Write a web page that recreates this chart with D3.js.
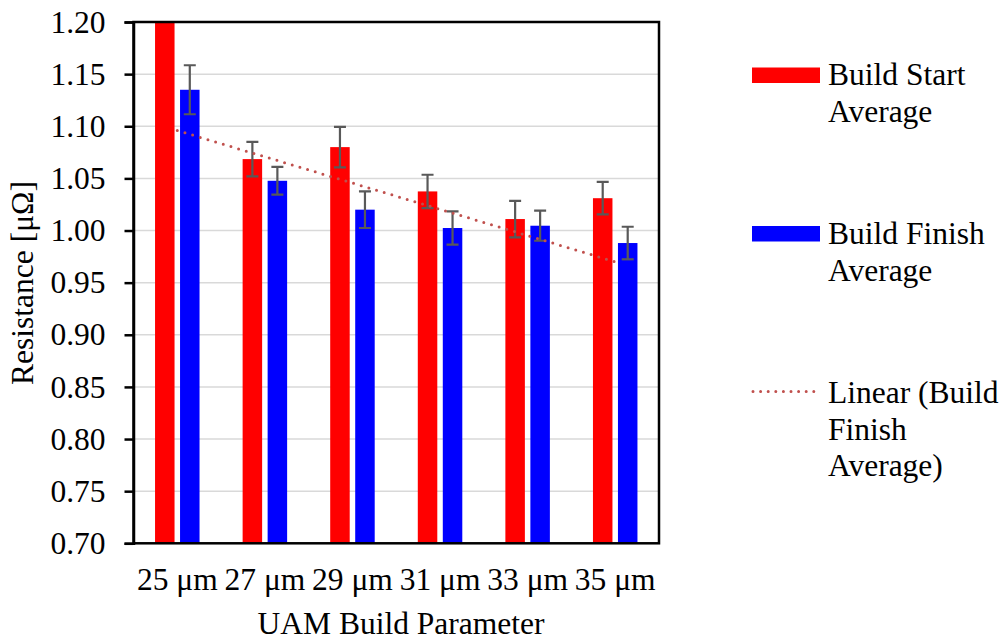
<!DOCTYPE html>
<html>
<head>
<meta charset="utf-8">
<script src="https://cdn.jsdelivr.net/npm/d3@7"></script>
<style>
  body { margin: 0; background: #fff; }
  svg { display: block; }
</style>
</head>
<body>
<svg id="chart" width="1008" height="641"></svg>
<script>
// ---- Data ----
const categories = ["25 μm", "27 μm", "29 μm", "31 μm", "33 μm", "35 μm"];
const startAvg   = [1.24, 1.0685, 1.080, 1.0375, 1.011, 1.031];
const startErr   = [0.02, 0.0165, 0.0195, 0.016, 0.0175, 0.0156];
const finishAvg  = [1.135, 1.0477, 1.020, 1.0024, 1.0046, 0.988];
const finishErr  = [0.0235, 0.0133, 0.0176, 0.016, 0.0144, 0.0156];
const yTicks     = [0.70, 0.75, 0.80, 0.85, 0.90, 0.95, 1.00, 1.05, 1.10, 1.15, 1.20];
const legendLabels = [["Build Start", "Average"], ["Build Finish", "Average"], ["Linear (Build", "Finish", "Average)"]];

const FONT = "'Liberation Serif'";
const FS = "31.5px";

// ---- Layout ----
const svg = d3.select("#chart");
const plot = { left: 133.5, right: 659, top: 22, bottom: 543.3 };
const colors = { start: "#FF0000", finish: "#0000FF", err: "#595959", trend: "#C0504D", grid: "#D9D9D9" };

const x = d3.scaleBand().domain(categories).range([plot.left, plot.right]).padding(0);
const y = d3.scaleLinear().domain([0.70, 1.20]).range([plot.bottom, plot.top]);
const barW = 19.5, offset = 12.5;

svg.append("defs").append("clipPath").attr("id", "clip")
  .append("rect").attr("x", plot.left).attr("y", plot.top)
  .attr("width", plot.right - plot.left).attr("height", plot.bottom - plot.top);

svg.append("g").selectAll("line").data(yTicks.slice(1, -1)).join("line")
  .attr("x1", plot.left).attr("x2", plot.right)
  .attr("y1", d => y(d)).attr("y2", d => y(d))
  .attr("stroke", colors.grid).attr("stroke-width", 1.5);

const g = svg.append("g").attr("clip-path", "url(#clip)");

const series = [
  { vals: startAvg, errs: startErr, color: colors.start, dx: -offset },
  { vals: finishAvg, errs: finishErr, color: colors.finish, dx: offset }
];

series.forEach(s => {
  g.append("g").selectAll("rect").data(categories).join("rect")
    .attr("x", (c) => x(c) + x.bandwidth() / 2 + s.dx - barW / 2)
    .attr("width", barW)
    .attr("y", (c, i) => y(s.vals[i]))
    .attr("height", (c, i) => plot.bottom - y(s.vals[i]))
    .attr("fill", s.color);
});

series.forEach(s => {
  const eg = g.append("g").attr("stroke", colors.err).attr("stroke-width", 2.2);
  categories.forEach((c, i) => {
    const cx = x(c) + x.bandwidth() / 2 + s.dx;
    const hi = y(s.vals[i] + s.errs[i]), lo = y(s.vals[i] - s.errs[i]);
    eg.append("line").attr("x1", cx).attr("x2", cx).attr("y1", hi).attr("y2", lo);
    eg.append("line").attr("x1", cx - 6).attr("x2", cx + 6).attr("y1", hi).attr("y2", hi);
    eg.append("line").attr("x1", cx - 6).attr("x2", cx + 6).attr("y1", lo).attr("y2", lo);
  });
});

// linear trendline (least squares on Build Finish Average)
const xs = finishAvg.map((_, i) => i + 1);
const mx = d3.mean(xs), my = d3.mean(finishAvg);
const slope = d3.sum(xs, (xv, i) => (xv - mx) * (finishAvg[i] - my)) / d3.sum(xs, xv => (xv - mx) ** 2);
const intercept = my - slope * mx;
const trendPts = [1, categories.length].map(k => [x(categories[k - 1]) + x.bandwidth() / 2, y(intercept + slope * k)]);
g.append("path").attr("d", d3.line()(trendPts))
  .attr("fill", "none").attr("stroke", colors.trend).attr("stroke-width", 3)
  .attr("stroke-linecap", "round").attr("stroke-dasharray", "0 8");

svg.append("rect").attr("x", plot.left).attr("y", plot.top)
  .attr("width", plot.right - plot.left).attr("height", plot.bottom - plot.top)
  .attr("fill", "none").attr("stroke", "#000").attr("stroke-width", 2.5);

const yAxis = d3.axisLeft(y).tickValues(yTicks).tickFormat(d3.format(".2f")).tickSize(9).tickPadding(19);
const ya = svg.append("g").attr("transform", `translate(${plot.left},0)`).call(yAxis);
ya.select(".domain").attr("stroke", "#000").attr("stroke-width", 2.5);
ya.selectAll(".tick line").attr("stroke", "#000").attr("stroke-width", 2.5);
ya.selectAll(".tick text").attr("fill", "#000").style("font-family", FONT).style("font-size", FS);

const xAxis = d3.axisBottom(x).tickSize(0).tickPadding(0);
const xa = svg.append("g").attr("transform", `translate(0,${plot.bottom})`).call(xAxis);
xa.select(".domain").remove();
xa.selectAll(".tick text").attr("fill", "#000").attr("dy", null).attr("y", 47)
  .style("font-family", FONT).style("font-size", FS);

svg.append("text").attr("x", 401).attr("y", 634).attr("text-anchor", "middle")
  .style("font-family", FONT).style("font-size", FS).attr("fill", "#000").text("UAM Build Parameter");
svg.append("text").attr("transform", "translate(33,283) rotate(-90)").attr("text-anchor", "middle")
  .style("font-family", FONT).style("font-size", FS).attr("fill", "#000").text("Resistance [μΩ]");

const lx = 752, lw = 68, tx = 828, lh = 36.7;
const legendTops = [85, 244, 403];
const lg = svg.append("g");
lg.append("rect").attr("x", lx).attr("y", 67.5).attr("width", lw).attr("height", 15.5).attr("fill", colors.start);
lg.append("rect").attr("x", lx).attr("y", 226).attr("width", lw).attr("height", 15.5).attr("fill", colors.finish);
lg.append("line").attr("x1", lx + 1).attr("x2", lx + lw).attr("y1", 391.5).attr("y2", 391.5)
  .attr("stroke", colors.trend).attr("stroke-width", 3).attr("stroke-linecap", "round").attr("stroke-dasharray", "0 7.6");
legendLabels.forEach((lines, i) => {
  lines.forEach((t, j) => {
    lg.append("text").attr("x", tx).attr("y", legendTops[i] + j * lh)
      .style("font-family", FONT).style("font-size", FS).attr("fill", "#000").text(t);
  });
});
</script>
</body>
</html>
